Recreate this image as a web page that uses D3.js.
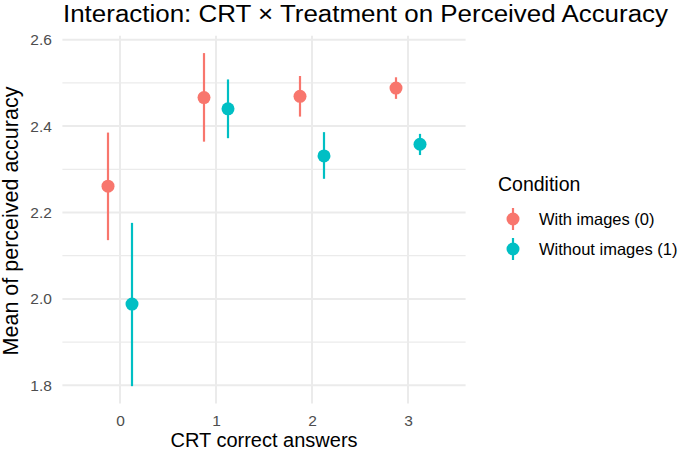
<!DOCTYPE html>
<html><head><meta charset="utf-8">
<script src="https://cdn.jsdelivr.net/npm/d3@7"></script>
<style>body{margin:0;background:#fff;} svg{display:block;font-family:"Liberation Sans",Arial,sans-serif;}</style>
</head><body>
<script>
const categories = ["0","1","2","3"];
const conditions = ["With images (0)","Without images (1)"];
const colors = ["#F8766D","#00BFC4"];
const meanWith = [2.261, 2.466, 2.469, 2.488];
const lowWith  = [2.136, 2.364, 2.422, 2.463];
const highWith = [2.385, 2.569, 2.516, 2.513];
const meanWithout = [1.988, 2.440, 2.331, 2.358];
const lowWithout  = [1.798, 2.372, 2.278, 2.333];
const highWithout = [2.176, 2.508, 2.386, 2.382];
const yTicks = [1.8, 2.0, 2.2, 2.4, 2.6];
const yMinor = [1.9, 2.1, 2.3, 2.5];

const W = 685, H = 454;
const svg = d3.select("body").append("svg").attr("width", W).attr("height", H);
const panel = {l: 62.4, r: 465.6, t: 35.8, b: 403.5};

const x = d3.scalePoint().domain(categories).range([120, 408]);
const step = x.step();
const y = d3.scaleLinear().domain([1.8, 2.6]).range([385.3, 39.7]);
const dodge = step * 0.125;

const g = svg.append("g");
g.selectAll(".ymin").data(yMinor).join("line")
  .attr("x1", panel.l).attr("x2", panel.r)
  .attr("y1", d => y(d)).attr("y2", d => y(d))
  .attr("stroke", "#EBEBEB").attr("stroke-width", 1.2);
g.selectAll(".ymaj").data(yTicks).join("line")
  .attr("x1", panel.l).attr("x2", panel.r)
  .attr("y1", d => y(d)).attr("y2", d => y(d))
  .attr("stroke", "#EBEBEB").attr("stroke-width", 2);
g.selectAll(".xmaj").data(categories).join("line")
  .attr("x1", d => x(d)).attr("x2", d => x(d))
  .attr("y1", panel.t).attr("y2", panel.b)
  .attr("stroke", "#EBEBEB").attr("stroke-width", 2);

const yAxis = svg.append("g").attr("transform", `translate(${panel.l},0)`)
  .call(d3.axisLeft(y).tickValues(yTicks).tickFormat(d3.format(".1f")).tickSize(0).tickPadding(10.5));
yAxis.select(".domain").remove();
yAxis.selectAll("text").attr("fill", "#4D4D4D").style("font-size", "15.5px").style("font-family", "Liberation Sans, Arial, sans-serif");

const xAxis = svg.append("g").attr("transform", `translate(0,${panel.b})`)
  .call(d3.axisBottom(x).tickSize(0).tickPadding(11.5));
xAxis.select(".domain").remove();
xAxis.selectAll("text").attr("fill", "#4D4D4D").style("font-size", "15.5px").style("font-family", "Liberation Sans, Arial, sans-serif");

const series = [
  {mean: meanWith, low: lowWith, high: highWith, off: -dodge, color: colors[0]},
  {mean: meanWithout, low: lowWithout, high: highWithout, off: dodge, color: colors[1]}
];
series.forEach(s => {
  const data = categories.map((c, i) => ({c, m: s.mean[i], lo: s.low[i], hi: s.high[i]}));
  g.selectAll(null).data(data).join("line")
    .attr("x1", d => x(d.c) + s.off).attr("x2", d => x(d.c) + s.off)
    .attr("y1", d => y(d.lo)).attr("y2", d => y(d.hi))
    .attr("stroke", s.color).attr("stroke-width", 2.2);
  g.selectAll(null).data(data).join("circle")
    .attr("cx", d => x(d.c) + s.off).attr("cy", d => y(d.m))
    .attr("r", 6.5).attr("fill", s.color);
});

svg.append("text").attr("x", 63).attr("y", 21.5)
  .style("font-size", "23.5px").attr("fill", "#000")
  .attr("textLength", 605).attr("lengthAdjust", "spacingAndGlyphs")
  .text("Interaction: CRT × Treatment on Perceived Accuracy");

svg.append("text").attr("x", (panel.l + panel.r) / 2).attr("y", 447)
  .attr("text-anchor", "middle").style("font-size", "20px").attr("fill", "#000")
  .text("CRT correct answers");
svg.append("text").attr("transform", `translate(18,221) rotate(-90)`)
  .attr("text-anchor", "middle").style("font-size", "21.5px").attr("fill", "#000")
  .text("Mean of perceived accuracy");

svg.append("text").attr("x", 498).attr("y", 191).style("font-size", "19.5px").attr("fill", "#000").text("Condition");
const leg = svg.append("g");
conditions.forEach((c, i) => {
  const cy = 219 + i * 30;
  leg.append("line").attr("x1", 513).attr("x2", 513).attr("y1", cy - 11).attr("y2", cy + 11)
    .attr("stroke", colors[i]).attr("stroke-width", 2.2);
  leg.append("circle").attr("cx", 513).attr("cy", cy).attr("r", 6.5).attr("fill", colors[i]);
  leg.append("text").attr("x", 539).attr("y", cy + 6).style("font-size", "16.5px").attr("fill", "#000").text(c);
});
</script>
</body></html>
